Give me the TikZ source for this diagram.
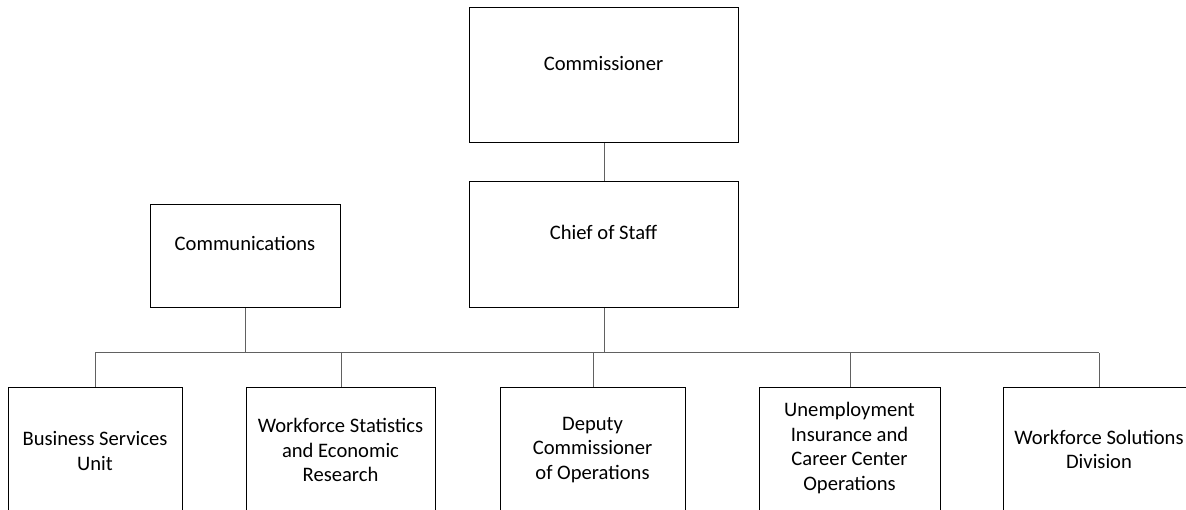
\documentclass[tikz,border=0pt]{standalone}
\usepackage{fontspec}
\setmainfont{Carlito}
\begin{document}
\begin{tikzpicture}[x=1pt,y=-1pt,
  box/.style={draw=black,line width=1.3pt,fill=white,inner sep=0pt,anchor=north west},
  conn/.style={draw=black!62,line width=1pt},
  lbl/.style={align=center,font=\fontsize{20.6}{24.5}\selectfont,inner sep=0pt,text=black}]
\useasboundingbox (0,0) rectangle (1186,510);
\clip (0,0) rectangle (1186,510);
% boxes
\node[box,minimum width=269pt,minimum height=135pt] (comm) at (469,7) {};
\node[box,minimum width=269pt,minimum height=126pt] (cos) at (469,181) {};
\node[box,minimum width=190pt,minimum height=103pt] (cmn) at (150,204) {};
\node[box,minimum width=174pt,minimum height=200pt] (bsu) at (8,387) {};
\node[box,minimum width=189pt,minimum height=200pt] (wser) at (246,387) {};
\node[box,minimum width=185pt,minimum height=200pt] (dco) at (500,387) {};
\node[box,minimum width=181pt,minimum height=200pt] (ui) at (759,387) {};
\node[box,minimum width=192pt,minimum height=200pt] (wsd) at (1003,387) {};
% connectors
\coordinate (hl) at (95,353);
\coordinate (hr) at (1099,353);
\draw[conn] (hl) -- (hr);
\draw[conn] (comm.south) -- (cos.north);
\draw[conn] (cos.south) -- (cos.south |- hl);
\draw[conn] (cmn.south) -- (cmn.south |- hl);
\draw[conn] (bsu.north) -- (bsu.north |- hl);
\draw[conn] (wser.north) -- (wser.north |- hl);
\draw[conn] (dco.north) -- (dco.north |- hl);
\draw[conn] (ui.north) -- (ui.north |- hl);
\draw[conn] (wsd.north) -- (wsd.north |- hl);
% texts
\node[lbl] (tcomm) at (603.5,63) {Commissioner};
\node[lbl] (tcos) at (603.5,232) {Chief of Staff};
\node[lbl] (tcmn) at (245,243) {Communications};
\node[lbl] (tbsu) at (95,451) {Business Services\\Unit};
\node[lbl] (twser) at (340.5,450) {Workforce Statistics\\and Economic\\Research};
\node[lbl] (tdco) at (592.5,450) {Deputy\\Commissioner\\of Operations};
\node[lbl] (tui) at (849.5,448) {Unemployment\\Insurance and\\Career Center\\Operations};
\node[lbl] (twsd) at (1099,449.5) {Workforce Solutions\\Division};
\end{tikzpicture}
\end{document}
